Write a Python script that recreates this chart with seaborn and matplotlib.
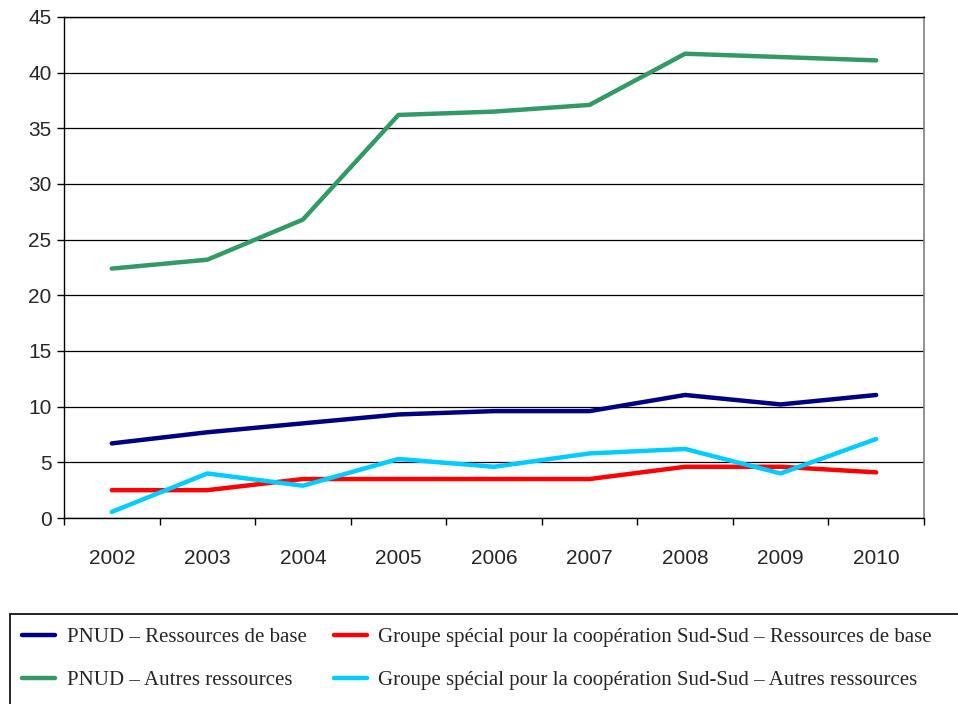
import pandas as pd
import seaborn as sns
import matplotlib.pyplot as plt
from matplotlib.patches import Rectangle
from matplotlib.ticker import MultipleLocator, FixedLocator, NullFormatter

annees = ["2002", "2003", "2004", "2005", "2006", "2007", "2008", "2009", "2010"]
pnud_base = [6.7, 7.7, 8.5, 9.3, 9.6, 9.6, 11.05, 10.2, 11.05]
pnud_autres = [22.4, 23.2, 26.8, 36.2, 36.5, 37.1, 41.7, 41.4, 41.1]
gs_base = [2.5, 2.5, 3.5, 3.5, 3.5, 3.5, 4.6, 4.6, 4.1]
gs_autres = [0.55, 4.0, 2.9, 5.3, 4.6, 5.8, 6.2, 4.0, 7.1]

series = {
    "PNUD – Ressources de base": pnud_base,
    "PNUD – Autres ressources": pnud_autres,
    "Groupe spécial pour la coopération Sud-Sud – Ressources de base": gs_base,
    "Groupe spécial pour la coopération Sud-Sud – Autres ressources": gs_autres,
}
couleurs = ["#000080", "#339966", "#FF0000", "#00CCFF"]

rows = []
for nom, vals in series.items():
    for i, v in enumerate(vals):
        rows.append({"pos": i, "annee": annees[i], "valeur": v, "serie": nom})
df = pd.DataFrame(rows)

sns.set_style("white")
plt.rcParams['font.family'] = ['Liberation Sans', 'DejaVu Sans']

fig = plt.figure(figsize=(9.58, 7.04), dpi=100)
ax = fig.add_axes([0.0668, 0.2642, 0.8977, 0.7117])

sns.lineplot(data=df, x="pos", y="valeur", hue="serie", palette=couleurs,
             linewidth=3.2, ax=ax, legend=False, zorder=3)

ax.set_xlim(-0.5, 8.5)
ax.set_ylim(0, 45)
ax.yaxis.set_major_locator(MultipleLocator(5))
ax.grid(axis="y", color="black", linewidth=0.9)
ax.set_axisbelow(True)

ax.xaxis.set_major_locator(FixedLocator([i - 0.5 for i in range(10)]))
ax.xaxis.set_major_formatter(NullFormatter())
ax.xaxis.set_minor_locator(FixedLocator(list(range(9))))
ax.set_xticklabels(annees, minor=True)
ax.tick_params(axis="x", which="major", direction="out", length=5, width=1, color="black")
ax.tick_params(axis="x", which="minor", length=0, labelsize=15, pad=22)
ax.tick_params(axis="y", direction="out", length=5, width=1, color="black", labelsize=15, pad=4)
ax.tick_params(left=True, bottom=True)
ax.set_xlabel("")
ax.set_ylabel("")

for s in ["left", "bottom", "top"]:
    ax.spines[s].set_color("black")
    ax.spines[s].set_linewidth(1)
ax.spines["right"].set_color("#808080")
ax.spines["right"].set_linewidth(1.2)

# cadre de la légende
fig.patches.append(Rectangle((10 / 958, -0.02), 1.0, 0.1478,
                             transform=fig.transFigure, fill=False,
                             edgecolor="black", linewidth=1.2))

handles = [plt.Line2D([], [], color=c, linewidth=3.2) for c in couleurs]
labels = list(series.keys())
leg = fig.legend(handles, labels,
                 loc="upper left", bbox_to_anchor=(3 / 958, 1 - 609 / 704),
                 ncol=2, frameon=False, handlelength=1.6, handletextpad=0.55,
                 columnspacing=1.3, labelspacing=1.1,
                 prop={"family": "Liberation Serif", "size": 15})

fig.savefig("out.png", dpi=100)
